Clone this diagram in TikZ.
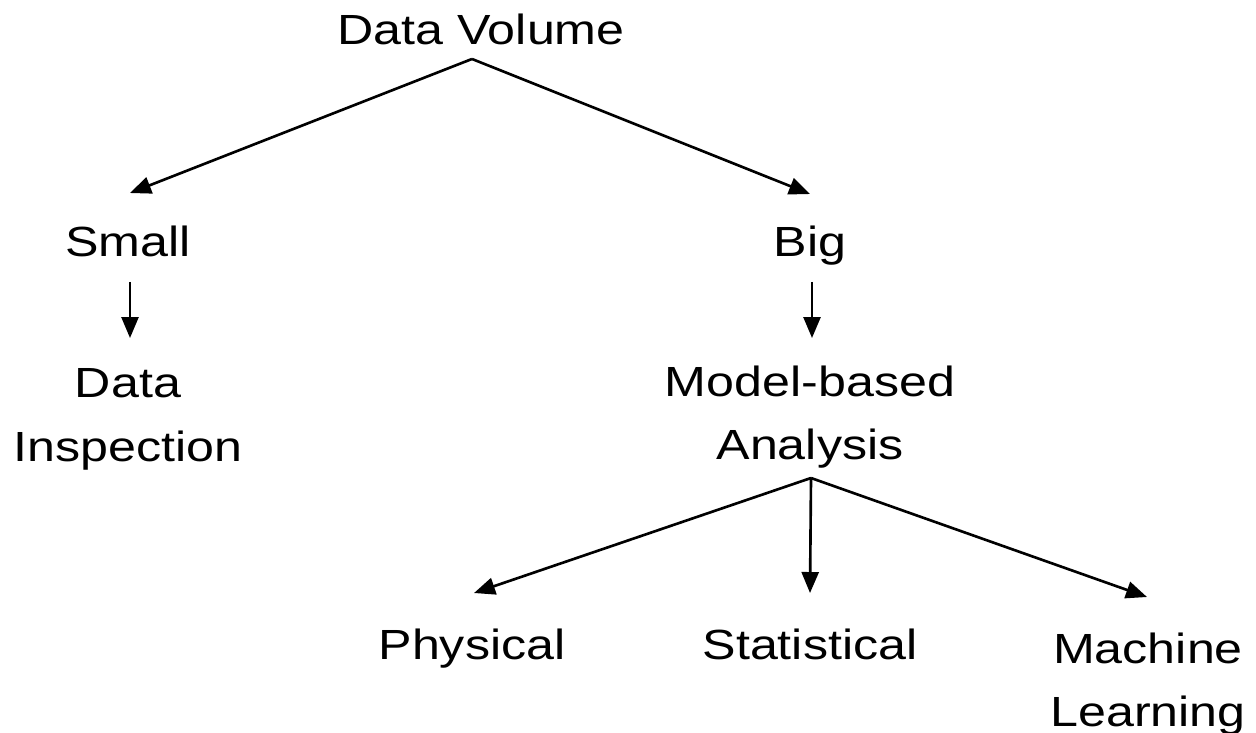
\documentclass[tikz,border=0pt]{standalone}
\usepackage{fontspec}
\setmainfont{Liberation Sans}[FakeStretch=1.19]
\usetikzlibrary{arrows.meta}

\begin{document}
\begin{tikzpicture}[
		label/.style={inner sep=0pt, anchor=north, align=center, font=\fontsize{12}{18}\selectfont},
		single/.style={label, text depth=0pt},
		link/.style={line width=0.75pt, -{Triangle[length=0.21cm, width=0.17cm]}}
	]
		\useasboundingbox (0,0) rectangle (12.56,-7.32);

		% draw the labels
		\node (vol) [single] at (4.81,-0.13) {Data Volume};
		\node (small) [single] at (1.28,-2.25) {Small};
		\node (big) [single] at (8.10,-2.25) {Big};
		\node (insp) [label] at (1.28,-3.68) {Data\\Inspection};
		\node (model) [label] at (8.10,-3.65) {Model-based\\Analysis};
		\node (phys) [single] at (4.72,-6.28) {Physical};
		\node (stat) [single] at (8.10,-6.28) {Statistical};
		\node (mach) [label] at (11.48,-6.32) {Machine\\Learning};

		% draw the arrows
		\draw [link] ([xshift=-0.09cm, yshift=-0.14cm]vol.south) -- ([xshift=0.02cm, yshift=0.32cm]small.north);
		\draw [link] ([xshift=-0.09cm, yshift=-0.14cm]vol.south) -- ([yshift=0.31cm]big.north);

		\draw [link] ([xshift=0.02cm, yshift=-0.25cm]small.south) -- ([xshift=0.02cm, yshift=0.30cm]insp.north);
		\draw [link] ([xshift=0.02cm, yshift=-0.25cm]big.south) -- ([xshift=0.02cm, yshift=0.27cm]model.north);

		\draw [link] ([xshift=0.01cm, yshift=-0.09cm]model.south) -- ([xshift=0.02cm, yshift=0.35cm]phys.north);
		\draw [link] ([xshift=0.01cm, yshift=-0.09cm]model.south) -- ([yshift=0.35cm]stat.north);
		\draw [link] ([xshift=0.01cm, yshift=-0.09cm]model.south) -- ([xshift=-0.01cm, yshift=0.35cm]mach.north);
	\end{tikzpicture}
\end{document}
